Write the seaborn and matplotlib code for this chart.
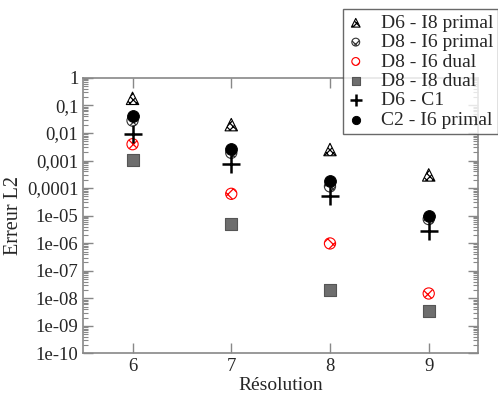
import numpy as np
import pandas as pd
import matplotlib
matplotlib.use("Agg")
import matplotlib.pyplot as plt
import seaborn as sns

# data
resolution = [6, 7, 8, 9]
d6_i8_primal = [0.18, 0.02, 0.0025, 3.0e-4]
d8_i6_primal = [0.028, 0.0019, 1.15e-4, 7.5e-6]
d8_i6_dual = [0.0039, 6.2e-5, 9.8e-7, 1.5e-8]
d8_i8_dual = [0.00107, 5.0e-6, 2.0e-8, 3.5e-9]
d6_c1 = [0.009, 0.00074, 5.0e-5, 2.8e-6]
c2_i6_primal = [0.04, 0.0026, 1.8e-4, 9.8e-6]

ytick_vals = [1, 0.1, 0.01, 0.001, 1e-4, 1e-5, 1e-6, 1e-7, 1e-8, 1e-9, 1e-10]
ytick_labels = ["1", "0,1", "0,01", "0,001", "0,0001", "1e-05", "1e-06",
                "1e-07", "1e-08", "1e-09", "1e-10"]

sns.set_style("ticks")
plt.rcParams["font.family"] = ["Liberation Serif", "DejaVu Serif"]
plt.rcParams["hatch.linewidth"] = 0.9

fig = plt.figure(figsize=(4.98, 4.01), dpi=100)
ax = fig.add_axes([0.167, 0.1185, 0.793, 0.6875])

series = [
    ("D6 - I8 primal", d6_i8_primal, dict(marker="^", s=80, facecolor="white", edgecolor="black", hatch="xxxxx", linewidth=0.8)),
    ("D8 - I6 primal", d8_i6_primal, dict(marker="o", s=65, facecolor="white", edgecolor="#333333", hatch="xxx", linewidth=0.8)),
    ("D8 - I6 dual", d8_i6_dual, dict(marker="o", s=65, facecolor="white", edgecolor="red", hatch="xxx", linewidth=0.8)),
    ("D8 - I8 dual", d8_i8_dual, dict(marker="s", s=72, color="#6e6e6e", edgecolor="#555555", linewidth=0.8)),
    ("D6 - C1", d6_c1, dict(marker="+", s=170, color="black", linewidth=1.8)),
    ("C2 - I6 primal", c2_i6_primal, dict(marker="o", s=72, color="black", edgecolor="black")),
]

for name, vals, style in series:
    df = pd.DataFrame({"res": resolution, "err": vals})
    sns.scatterplot(data=df, x="res", y="err", ax=ax, label=name, **style)

ax.set_yscale("log")
ax.set_xlim(5.5, 9.5)
ax.set_ylim(1e-10, 1)
ax.set_xticks(resolution)
ax.set_xticklabels([str(r) for r in resolution])
ax.set_yticks(ytick_vals)
ax.set_yticklabels(ytick_labels)
ax.yaxis.set_minor_locator(matplotlib.ticker.LogLocator(base=10, subs=np.arange(2, 10), numticks=20))
ax.yaxis.set_minor_formatter(matplotlib.ticker.NullFormatter())

ax.tick_params(axis="both", which="both", direction="in", top=True, right=True,
               color="#888888", labelsize=13.5)
ax.tick_params(axis="both", which="major", length=7, width=1)
ax.tick_params(axis="y", which="minor", length=3.5, width=0.8)
for sp in ax.spines.values():
    sp.set_color("#888888")
    sp.set_linewidth(1.2)

ax.set_xlabel("Résolution", fontsize=14, labelpad=1)
ax.set_ylabel("Erreur L2", fontsize=14.5, labelpad=3)

handles, labels = ax.get_legend_handles_labels()
ax.legend_.remove()
leg = fig.legend(handles, labels, loc="lower left", bbox_to_anchor=(0.689, 0.667),
                 fontsize=14, frameon=True, fancybox=False, borderpad=0.25,
                 labelspacing=0.09, handletextpad=0.9, handlelength=0.8,
                 borderaxespad=0, markerscale=0.7)
leg.get_frame().set_edgecolor("#444444")
leg.get_frame().set_linewidth(1.0)

plt.savefig("out.png", dpi=100)
